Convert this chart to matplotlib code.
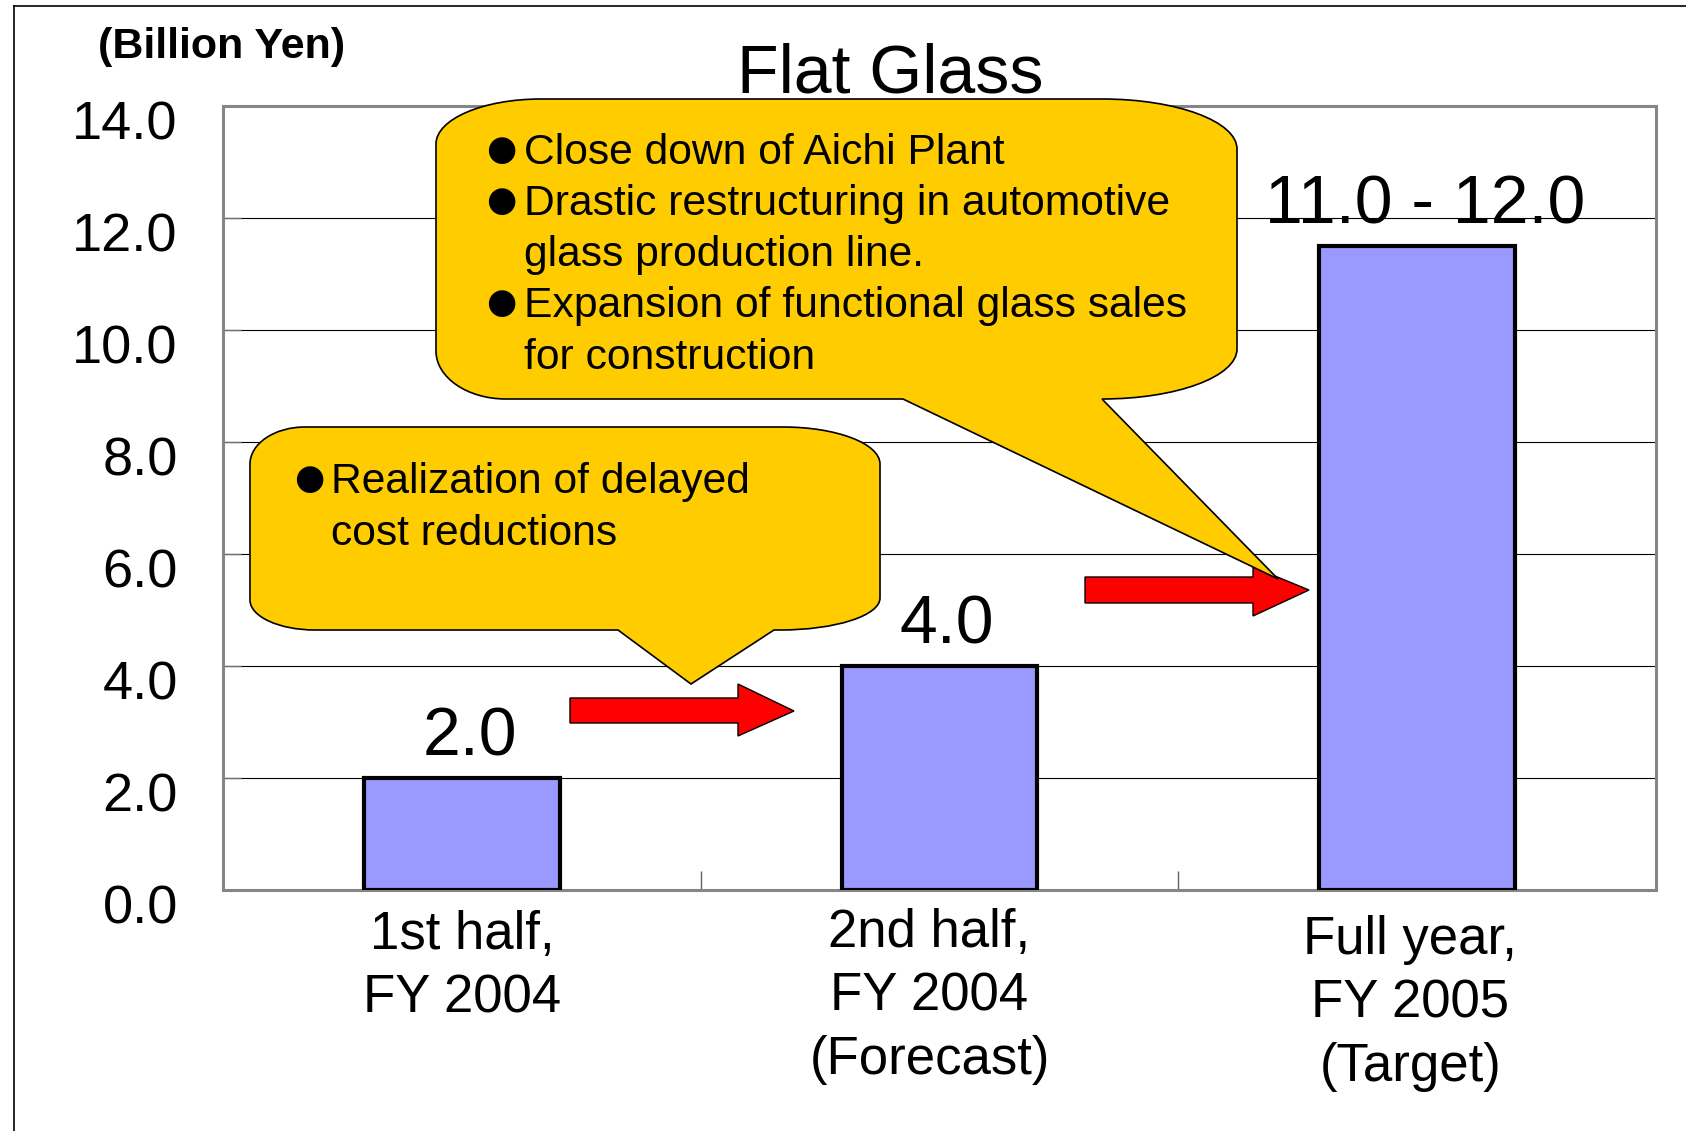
import matplotlib
matplotlib.use("Agg")
import matplotlib.pyplot as plt
from matplotlib.path import Path
from matplotlib.patches import PathPatch
from matplotlib.lines import Line2D
from matplotlib.transforms import Affine2D, ScaledTranslation, blended_transform_factory

# ---------------- data ----------------
categories = ["1st half,\nFY 2004", "2nd half,\nFY 2004\n(Forecast)", "Full year,\nFY 2005\n(Target)"]
values = [2.0, 4.0, 11.5]
value_labels = ["2.0", "4.0", "11.0 - 12.0"]
yticks = [0, 2, 4, 6, 8, 10, 12, 14]
ytick_labels = ["0.0", "2.0", "4.0", "6.0", "8.0", "10.0", "12.0", "14.0"]
title = "Flat Glass"
unit_label = "(Billion Yen)"
big_callout_lines = [
    (True, "Close down of Aichi Plant"),
    (True, "Drastic restructuring in automotive"),
    (False, "glass production line."),
    (True, "Expansion of functional glass sales"),
    (False, "for construction"),
]
small_callout_lines = [
    (True, "Realization of delayed"),
    (False, "cost reductions"),
]

# layout (pixel nudges of category labels)
label_dx = [0, -10, -7]
label_dy = [0, -2, 5]

FONT = "Liberation Sans"
W, H = 1686, 1131
fig = plt.figure(figsize=(W / 100, H / 100), dpi=100)
fig.patch.set_facecolor("white")
# pixel transform (x right, y down, in image pixels)
px = Affine2D().scale(1 / W, -1 / H).translate(0, 1) + fig.transFigure

ax = fig.add_axes([223 / W, 1 - 890 / H, (1656 - 223) / W, (890 - 106) / H])
x = list(range(len(categories)))
ax.bar(x, values, width=0.41, color="#9999FF", edgecolor="black", linewidth=3.0, zorder=3)
ax.set_xlim(-0.5, 2.5)
ax.set_ylim(0, 14)

for s in ax.spines.values():
    s.set_color("#868686")
    s.set_linewidth(2.2)

ax.set_yticks(yticks, ytick_labels)
ax.tick_params(axis="y", direction="in", length=13, width=1, color="#707070", pad=32.5,
               labelsize=39)
for lab in ax.get_yticklabels():
    lab.set_fontfamily(FONT)
    lab.set_transform(lab.get_transform() + ScaledTranslation(0, -14 / 100, fig.dpi_scale_trans))

ax.set_xticks([0.5, 1.5], ["", ""])
ax.tick_params(axis="x", direction="in", length=14, width=1, color="#606060")

ax.yaxis.grid(True, color="black", linewidth=0.8)
ax.xaxis.grid(False)
ax.set_axisbelow(True)
gl = ax.get_ygridlines()
gl[0].set_visible(False)
gl[-1].set_visible(False)

# category labels
for i, cat in enumerate(categories):
    btr = blended_transform_factory(ax.transData, px) + ScaledTranslation(label_dx[i] / 100, 0, fig.dpi_scale_trans)
    for k, line in enumerate(cat.split("\n")):
        ax.text(i, 949 + label_dy[i] + k * 63.5, line, transform=btr, ha="center", va="baseline",
                fontsize=38, fontfamily=FONT, clip_on=False)

# value labels
for i, (v, lbl) in enumerate(zip(values, value_labels)):
    ax.annotate(lbl, xy=(i, v), xytext=(5.5, 16), textcoords="offset points",
                ha="center", va="baseline", fontsize=49, fontfamily=FONT, zorder=4)

# title and unit
fig.text(890, 92.5, title, transform=px, ha="center", va="baseline", fontsize=49, fontfamily=FONT)
fig.text(222, 58, unit_label, transform=px, ha="center", va="baseline", fontsize=31,
         fontweight="bold", fontfamily=FONT)

# outer frame
fig.add_artist(Line2D([14, W], [6, 6], transform=px, color="black", linewidth=1.2))
fig.add_artist(Line2D([14, 14], [6, H], transform=px, color="black", linewidth=1.2))

K = 0.5523


def corner(verts, codes, p, c, q):
    verts += [(p[0] + K * (c[0] - p[0]), p[1] + K * (c[1] - p[1])),
              (q[0] + K * (c[0] - q[0]), q[1] + K * (c[1] - q[1])), q]
    codes += [Path.CURVE4] * 3


def callout(x0, y0, x1, y1, radii, tail, z):
    (tlx, tly), (trx, try_), (brx, bry), (blx, bly) = radii
    b1, b2, tip = tail
    v = [(x0 + tlx, y0)]
    c = [Path.MOVETO]
    v.append((x1 - trx, y0)); c.append(Path.LINETO)
    corner(v, c, (x1 - trx, y0), (x1, y0), (x1, y0 + try_))
    v.append((x1, y1 - bry)); c.append(Path.LINETO)
    corner(v, c, (x1, y1 - bry), (x1, y1), (x1 - brx, y1))
    v += [(b2, y1), tip, (b1, y1), (x0 + blx, y1)]
    c += [Path.LINETO] * 4
    corner(v, c, (x0 + blx, y1), (x0, y1), (x0, y1 - bly))
    v.append((x0, y0 + tly)); c.append(Path.LINETO)
    corner(v, c, (x0, y0 + tly), (x0, y0), (x0 + tlx, y0))
    v.append((0, 0)); c.append(Path.CLOSEPOLY)
    fig.add_artist(PathPatch(Path(v, c), transform=px, facecolor="#FFCC00",
                             edgecolor="black", linewidth=1.2, zorder=z))


def block_arrow(xs, ys0, ys1, xh, yh0, yh1, xt, yt, z):
    v = [(xs, ys0), (xh, ys0), (xh, yh0), (xt, yt), (xh, yh1), (xh, ys1), (xs, ys1), (xs, ys0)]
    c = [Path.MOVETO] + [Path.LINETO] * 6 + [Path.CLOSEPOLY]
    fig.add_artist(PathPatch(Path(v, c), transform=px, facecolor="#FF0000",
                             edgecolor="black", linewidth=1.0, zorder=z))


block_arrow(570, 698, 723, 738, 684, 736, 794, 711, 5)
block_arrow(1085, 577, 603, 1253, 567, 616, 1309, 590, 5)

callout(250, 427, 880, 630, [(55, 37), (97, 37), (100, 32), (65, 30)], (618, 774, (691, 684)), 6)
callout(436, 99, 1237, 399, [(105, 45), (135, 50), (135, 50), (70, 48)], (903, 1102, (1278, 579)), 6)


def callout_text(lines, bx, tx, y_first, dy):
    for k, (bullet, txt) in enumerate(lines):
        y = y_first + k * dy
        if bullet:
            fig.text(bx, y - 4, "\u25CF", transform=px, ha="center", va="baseline", fontsize=25,
                     fontfamily="DejaVu Sans", zorder=7)
        fig.text(tx, y, txt, transform=px, ha="left", va="baseline", fontsize=30.7,
                 fontfamily=FONT, zorder=7)


callout_text(big_callout_lines, 501, 524, 163.5, 51.3)
callout_text(small_callout_lines, 309, 331, 493, 52)

fig.savefig("out.png", dpi=100)
